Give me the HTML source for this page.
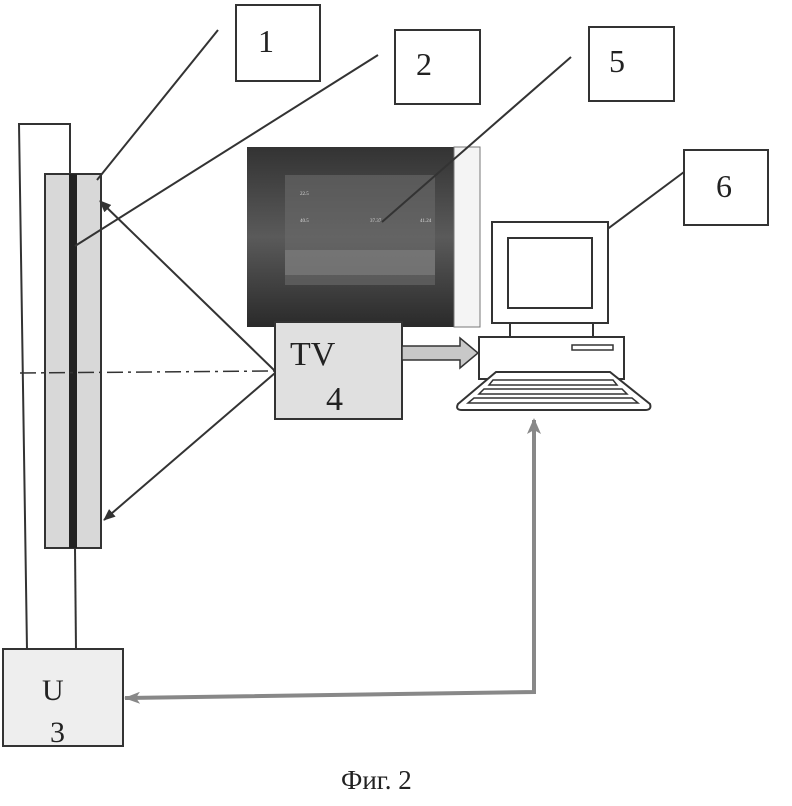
<!DOCTYPE html>
<html><head><meta charset="utf-8"><style>
html,body{margin:0;padding:0;background:#fff;}
svg{display:block;}
text{font-family:"Liberation Serif",serif;fill:#222;}
</style></head><body>
<svg width="792" height="806" viewBox="0 0 792 806" xmlns="http://www.w3.org/2000/svg">
<defs>
<marker id="ah" markerWidth="12" markerHeight="10" refX="11" refY="5" orient="auto" markerUnits="userSpaceOnUse">
<path d="M0,0 L12,5 L0,10 z" fill="#333"/></marker>
<marker id="gh" markerWidth="16" markerHeight="12" refX="15" refY="6" orient="auto" markerUnits="userSpaceOnUse">
<path d="M0,0 L16,6 L0,12 L4,6 z" fill="#888"/></marker>
<linearGradient id="scr" x1="0" y1="0" x2="0" y2="1">
<stop offset="0" stop-color="#333"/><stop offset="0.5" stop-color="#5a5a5a"/><stop offset="1" stop-color="#2a2a2a"/></linearGradient>
</defs>
<rect x="236" y="5" width="84" height="76" fill="#fff" stroke="#333" stroke-width="2"/>
<text x="258" y="52" font-size="32">1</text>
<rect x="395" y="30" width="85" height="74" fill="#fff" stroke="#333" stroke-width="2"/>
<text x="416" y="75" font-size="32">2</text>
<rect x="589" y="27" width="85" height="74" fill="#fff" stroke="#333" stroke-width="2"/>
<text x="609" y="72" font-size="32">5</text>
<rect x="684" y="150" width="84" height="75" fill="#fff" stroke="#333" stroke-width="2"/>
<text x="716" y="197" font-size="32">6</text>
<!-- left structure -->
<polyline points="27,650 19,124 70,124 70,174" fill="none" stroke="#333" stroke-width="2"/>
<rect x="45" y="174" width="56" height="374" fill="#d8d8d8" stroke="#333" stroke-width="2"/>
<rect x="69" y="174" width="8" height="374" fill="#222"/>
<line x1="75" y1="548" x2="76" y2="650" stroke="#333" stroke-width="2"/>
<rect x="3" y="649" width="120" height="97" fill="#eee" stroke="#333" stroke-width="2"/>
<text x="42" y="700" font-size="30">U</text>
<text x="50" y="742" font-size="30">3</text>
<!-- thermal image -->
<rect x="247" y="147" width="207" height="180" fill="url(#scr)"/>
<rect x="285" y="175" width="150" height="110" fill="#6a6a6a" opacity="0.6"/>
<rect x="285" y="250" width="150" height="25" fill="#888" opacity="0.5"/>
<rect x="454" y="147" width="26" height="180" fill="#f4f4f4" stroke="#777"/>
<g font-size="5"><text x="300" y="195" style="fill:#ddd">22.5</text><text x="300" y="222" style="fill:#ddd">40.5</text><text x="370" y="222" style="fill:#ddd">37.37</text><text x="420" y="222" style="fill:#ddd">41.24</text></g>
<rect x="275" y="322" width="127" height="97" fill="#e0e0e0" stroke="#333" stroke-width="2"/>
<text x="290" y="365" font-size="34">TV</text>
<text x="326" y="410" font-size="34">4</text>
<line x1="20" y1="373" x2="275" y2="371" stroke="#333" stroke-width="1.5" stroke-dasharray="16,5,3,5"/>
<line x1="275" y1="371" x2="100" y2="201" stroke="#333" stroke-width="2" marker-end="url(#ah)"/>
<line x1="275" y1="373" x2="104" y2="520" stroke="#333" stroke-width="2" marker-end="url(#ah)"/>
<line x1="218" y1="30" x2="97" y2="180" stroke="#333" stroke-width="2"/>
<line x1="378" y1="55" x2="75" y2="246" stroke="#333" stroke-width="2"/>
<line x1="571" y1="57" x2="382" y2="222" stroke="#333" stroke-width="2"/>
<line x1="684" y1="172" x2="535" y2="283" stroke="#333" stroke-width="2"/>
<path d="M402,346 L460,346 L460,338 L478,353 L460,368 L460,360 L402,360 z" fill="#c8c8c8" stroke="#333" stroke-width="1.5"/>
<rect x="492" y="222" width="116" height="101" fill="#fff" stroke="#333" stroke-width="2"/>
<rect x="508" y="238" width="84" height="70" fill="#fff" stroke="#333" stroke-width="2"/>
<line x1="510" y1="323" x2="510" y2="337" stroke="#333" stroke-width="2"/>
<line x1="593" y1="323" x2="593" y2="337" stroke="#333" stroke-width="2"/>
<rect x="479" y="337" width="145" height="42" fill="#fff" stroke="#333" stroke-width="2"/>
<rect x="572" y="345" width="41" height="5" fill="#fff" stroke="#333" stroke-width="1.5"/>
<path d="M496,372 L610,372 L650,404 Q652,410 645,410 L462,410 Q455,410 458,404 z" fill="#fff" stroke="#333" stroke-width="2"/>
<path d="M493,380 L613,380 L617,385 L489,385 z" fill="#fff" stroke="#333" stroke-width="1.5"/>
<path d="M484,389 L622,389 L627,394 L479,394 z" fill="#fff" stroke="#333" stroke-width="1.5"/>
<path d="M474,398 L632,398 L638,403 L468,403 z" fill="#fff" stroke="#333" stroke-width="1.5"/>
<polyline points="534,420 534,692 125,698" fill="none" stroke="#888" stroke-width="4" marker-end="url(#gh)"/>
<path d="M534,418 L527,434 L534,430 L541,434 z" fill="#888"/>
<text x="341" y="789" font-size="27">Фиг. 2</text>
</svg>
</body></html>
